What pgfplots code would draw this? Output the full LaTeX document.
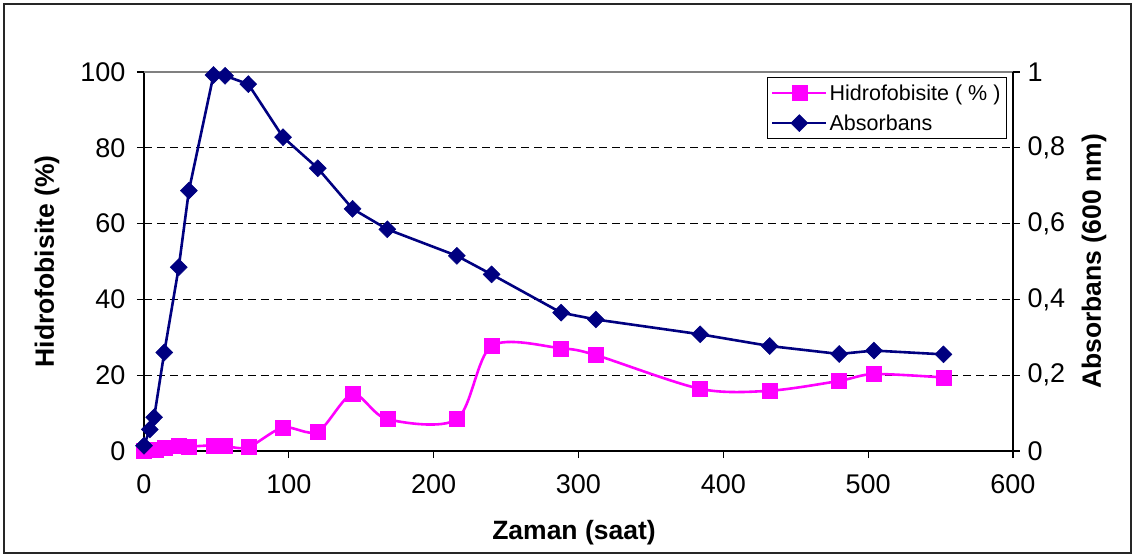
\documentclass[border=0pt]{standalone}
\usepackage{pgfplots}
\pgfplotsset{compat=1.18}
\usepackage{pgfplotstable}
\usepackage{fontspec}
\setmainfont{Liberation Sans}
\definecolor{navyc}{RGB}{0,0,128}
\definecolor{magc}{RGB}{255,0,255}

\pgfplotstableread{
x y
0 0
4 0.2
8 0.4
14 0.9
24 1.5
31 1.2
48 1.5
56 1.3
72 1.0
96 6.2
120 5.1
144 15.0
168 8.4
216 8.4
240 27.7
288 27.1
312 25.3
384 16.4
432 15.9
480 18.5
504 20.3
552 19.4
}\hyd

\pgfplotstableread{
x y
0 0.014
4 0.057
7 0.089
14 0.26
24 0.485
31 0.687
48 0.992
56 0.990
72 0.968
96 0.828
120 0.746
144 0.639
168 0.585
216 0.515
240 0.466
288 0.365
312 0.347
384 0.308
432 0.277
480 0.256
504 0.265
552 0.255
}\absb

\begin{document}
\begin{tikzpicture}
\useasboundingbox (-144pt,-107pt) rectangle (992pt,451pt);
\draw[line width=1.3pt, black!85] (-140pt,-102pt) rectangle (987pt,447pt);
\begin{axis}[
  scale only axis, width=869pt, height=379pt,
  xmin=0, xmax=600, ymin=0, ymax=100,
  xtick={0,100,...,600}, ytick={0,20,...,100},
  axis x line*=bottom, axis y line*=left,
  axis line style={line width=1.3pt, black},
  tick align=outside, major tick length=7pt,
  tick style={line width=1.3pt, black},
  ymajorgrids, grid style={dash pattern=on 8pt off 5pt, line width=0.9pt, black},
  tick label style={font=\fontsize{27}{31}\selectfont},
  /pgf/number format/assume math mode=true,
  xticklabel style={yshift=-13pt},
  yticklabel style={xshift=-8pt},
  legend style={at={(1,1)}, anchor=north east, xshift=-6pt, yshift=-5pt,
    draw=black, line width=1pt, font=\fontsize{21.5}{25}\selectfont,
    inner xsep=4pt, inner ysep=5pt, row sep=9pt},
  legend cell align=left,
  legend image code/.code={%
    \draw[#1, mark repeat=2, mark phase=2] plot coordinates {(0pt,0pt) (27pt,0pt) (54pt,0pt)};},
  clip=false,
]
\draw[line width=1.3pt, gray] (axis cs:0,100) -- (axis cs:600,100);
\addplot[color=magc, line width=2.6pt, smooth, tension=0.5, mark=square*, mark size=7.5pt,
  mark options={solid, line width=0.5pt}] table[x=x,y=y]{\hyd};
\addlegendentry{Hidrofobisite ( \% )}
\addlegendimage{color=navyc, line width=2.6pt, mark=diamond*, mark size=8.5pt, mark options={solid, xscale=1.33, line width=0.5pt}}
\addlegendentry{Absorbans}
\end{axis}
\begin{axis}[
  scale only axis, width=869pt, height=379pt,
  xmin=0, xmax=600, ymin=0, ymax=1,
  axis x line=none, axis y line*=right,
  ytick={0,0.2,...,1},
  axis line style={line width=1.3pt, black},
  tick align=outside, major tick length=7pt,
  tick style={line width=1.3pt, black},
  tick label style={font=\fontsize{27}{31}\selectfont},
  /pgf/number format/assume math mode=true,
  yticklabel style={/pgf/number format/.cd, use comma, fixed, /tikz/.cd, xshift=4pt},
  clip=false,
]
\addplot[color=navyc, line width=2.6pt, mark=diamond*, mark size=8.5pt,
  mark options={solid, xscale=1.33, line width=0.5pt}] table[x=x,y=y]{\absb};
\end{axis}
\node[rotate=90, font=\fontsize{26.5}{31}\selectfont\bfseries] at (-97pt,189.5pt) {Hidrofobisite (\%)};
\node[rotate=90, font=\fontsize{26.5}{31}\selectfont\bfseries] at (950pt,189.5pt) {Absorbans (600 nm)};
\node[font=\fontsize{26.5}{31}\selectfont\bfseries] at (430pt,-82pt) {Zaman (saat)};
\end{tikzpicture}
\end{document}
